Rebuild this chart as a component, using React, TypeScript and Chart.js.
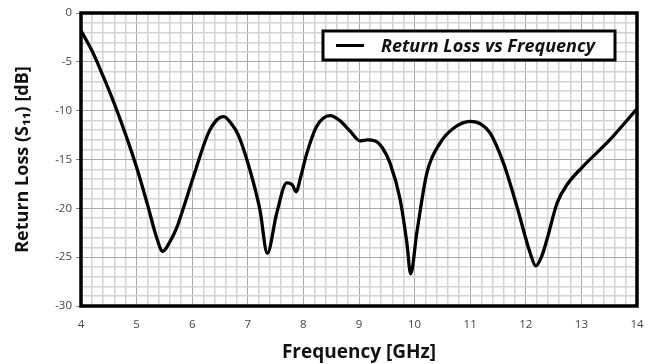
import React, { useEffect, useRef } from "react";
import { Chart, registerables } from "chart.js";

Chart.register(...registerables);

const freqGHz = [
  4.0, 4.2, 4.4, 4.6, 4.8, 5.0, 5.2, 5.35, 5.47, 5.6, 5.72, 5.84, 6.02, 6.29, 6.45, 6.57, 6.7, 6.83,
  7.04, 7.22, 7.35, 7.52, 7.7, 7.8, 7.87, 7.95, 8.06, 8.24, 8.48, 8.65, 8.84, 9.02, 9.15, 9.29,
  9.42, 9.56, 9.74, 9.86, 9.93, 10.04, 10.22, 10.46, 10.7, 11.0, 11.2, 11.36, 11.6, 11.84, 12.08,
  12.18, 12.28, 12.38, 12.56, 12.74, 13.03, 13.51, 14.0,
];
const returnLossDb = [
  -1.8, -3.9, -6.5, -9.3, -12.4, -15.8, -19.7, -22.8, -24.4, -23.4, -22.0, -20.0, -16.8, -12.3, -10.9,
  -10.6, -11.3, -12.5, -16.1, -20.2, -24.6, -20.5, -17.4, -17.6, -18.3, -16.8, -14.4, -11.6,
  -10.5, -11.0, -12.1, -13.1, -13.0, -13.1, -13.8, -15.4, -19.1, -23.5, -26.7, -22.5, -16.4,
  -13.3, -11.8, -11.1, -11.4, -12.3, -15.4, -19.8, -24.6, -25.9, -25.0, -23.2, -19.5, -17.6,
  -15.7, -13.0, -9.8,
];
const seriesLabel = "Return Loss vs Frequency";
const xTitle = "Frequency [GHz]";
const yTitle = "Return Loss (S\u2081\u2081) [dB]";

const isMult = (v: number, m: number) => Math.abs(v / m - Math.round(v / m)) < 1e-6;

const framePlugin = {
  id: "frameAndLegend",
  afterDraw(chart: any) {
    const { ctx, chartArea } = chart;
    ctx.save();
    ctx.strokeStyle = "#000";
    ctx.lineWidth = 3.5;
    ctx.strokeRect(chartArea.left, chartArea.top, chartArea.right - chartArea.left, chartArea.bottom - chartArea.top);
    // legend box
    const bx = 323, by = 31, bw = 292, bh = 29;
    ctx.fillStyle = "#fff";
    ctx.fillRect(bx, by, bw, bh);
    ctx.lineWidth = 3;
    ctx.strokeRect(bx, by, bw, bh);
    ctx.lineWidth = 3;
    ctx.beginPath();
    ctx.moveTo(336, by + bh / 2);
    ctx.lineTo(364, by + bh / 2);
    ctx.stroke();
    ctx.fillStyle = "#111";
    ctx.font = "italic bold 18px 'Open Sans', sans-serif";
    ctx.textBaseline = "middle";
    ctx.textAlign = "left";
    ctx.fillText(chart.data.datasets[0].label, 381, by + bh / 2 + 1);
    ctx.restore();
  },
};

export default function App() {
  const ref = useRef<HTMLCanvasElement>(null);
  useEffect(() => {
    document.body.style.margin = "0";
    const chart = new Chart(ref.current!, {
      type: "line",
      data: {
        datasets: [
          {
            label: seriesLabel,
            data: freqGHz.map((f, i) => ({ x: f, y: returnLossDb[i] })),
            borderColor: "#000",
            borderWidth: 3.3,
            pointRadius: 0,
            cubicInterpolationMode: "monotone",
            fill: false,
          },
        ],
      },
      options: {
        responsive: false,
        animation: false,
        layout: { padding: { top: 13, right: 17, left: 0, bottom: 0 } },
        plugins: { legend: { display: false }, tooltip: { enabled: false } },
        scales: {
          x: {
            type: "linear",
            min: 4,
            max: 14,
            afterFit: (s: any) => { s.height = 58; s.paddingLeft = 0; s.paddingRight = 0; },
            border: { display: false },
            ticks: {
              stepSize: 0.2,
              autoSkip: false,
              maxRotation: 0,
              padding: 12,
              color: "#3a4556",
              font: { family: "'Open Sans', sans-serif", size: 11.5 },
              callback: (v: any) => (isMult(Number(v), 1) ? String(Math.round(Number(v))) : ""),
            },
            grid: {
              color: (c: any) => (isMult(c.tick.value, 1) ? "#a8a8a8" : "#d4d4d4"),
              lineWidth: (c: any) => (isMult(c.tick.value, 1) ? 1 : 1.5),
              drawTicks: false,
            },
            title: {
              display: true,
              text: xTitle,
              color: "#111",
              font: { family: "'Open Sans', sans-serif", size: 19, weight: "bold" },
              padding: { top: 0, bottom: 0 },
            },
          },
          y: {
            min: -30,
            max: 0,
            afterFit: (s: any) => { s.width = 81; s.paddingTop = 0; s.paddingBottom = 0; },
            border: { display: false },
            ticks: {
              stepSize: 1,
              autoSkip: false,
              padding: 4,
              color: "#3a4556",
              font: { family: "'Open Sans', sans-serif", size: 11.5 },
              callback: (v: any) => (isMult(Number(v), 5) ? String(Math.round(Number(v))) : ""),
            },
            grid: {
              color: (c: any) => (isMult(c.tick.value, 5) ? "#a8a8a8" : "#d4d4d4"),
              lineWidth: (c: any) => (isMult(c.tick.value, 5) ? 1 : 1.5),
              drawTicks: true,
              tickLength: 5,
              tickColor: (c: any) => (isMult(c.tick.value, 5) ? "#888" : "rgba(0,0,0,0)"),
            },
            title: {
              display: true,
              text: yTitle,
              color: "#111",
              font: { family: "'Open Sans', sans-serif", size: 18, weight: "bold" },
              padding: { top: 12, bottom: 0 },
            },
          },
        },
      },
      plugins: [framePlugin],
    } as any);
    return () => chart.destroy();
  }, []);
  return <canvas ref={ref} width={654} height={364} style={{ display: "block" }} />;
}
